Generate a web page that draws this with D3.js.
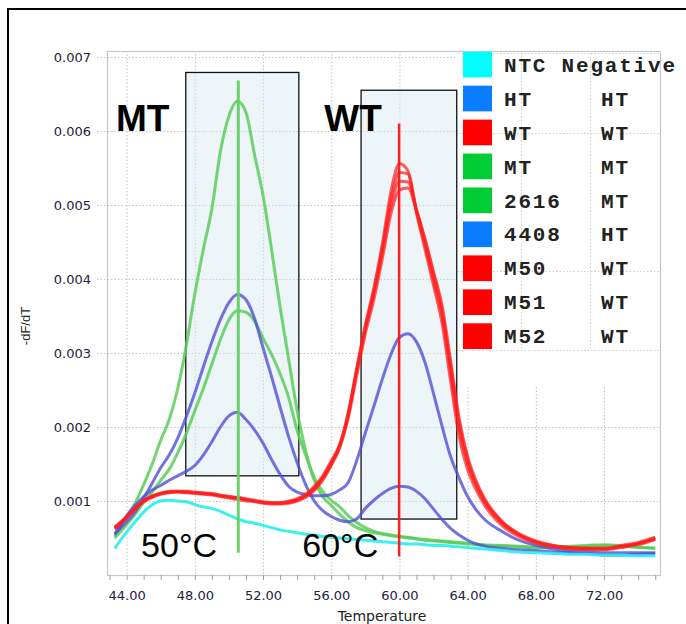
<!DOCTYPE html>
<html><head><meta charset="utf-8">
<script src="https://cdn.jsdelivr.net/npm/d3@7"></script>
<style>body{margin:0;background:#fff}svg{display:block}</style>
</head><body><svg id="c" width="686" height="624"></svg>
<script>
// ---------- data ----------
const temps = [43.3,44,44.5,45,45.5,46,46.5,47,47.5,48,48.5,49,49.5,50,50.5,51,51.5,52,52.5,53,53.5,54,54.5,55,55.5,56,56.5,57,57.5,58,58.5,59,59.5,60,60.5,61,61.5,62,62.5,63,63.5,64,64.5,65,66,67,68,69,70,71,72,73,74,75];

const ntc   = [.00036,.00058,.00072,.00085,.00095,.00100,.00101,.00100,.00099,.00095,.00092,.00090,.00086,.00081,.00076,.00072,.00070,.00067,.00064,.00061,.00059,.00057,.00055,.00054,.00052,.00051,.00050,.00049,.00048,.00047,.00046,.00045,.00044,.00043,.00042,.00042,.00041,.00040,.00040,.00039,.00038,.00037,.00036,.00035,.00033,.00031,.00030,.00029,.00028,.00028,.00027,.00027,.00026,.00026];
const ht    = [.00055,.00072,.00085,.00104,.00124,.00145,.00162,.00185,.00214,.00246,.00281,.00315,.00345,.00368,.00379,.00372,.00347,.00307,.00268,.00227,.00187,.00152,.00122,.00100,.00087,.00079,.00074,.00072,.00076,.00090,.00101,.00110,.00117,.00120,.00119,.00113,.00103,.00089,.00075,.00063,.00054,.00047,.00042,.00039,.00036,.00034,.00033,.00031,.00030,.00029,.00027,.00027,.00028,.00029];
const wt    = [.00064,.00078,.00090,.00100,.00106,.00110,.00112,.00112,.00112,.00111,.00110,.00109,.00107,.00105,.00104,.00102,.00100,.00098,.00097,.00097,.00099,.00102,.00108,.00118,.00132,.00152,.00175,.00220,.00280,.00338,.00388,.00448,.00518,.00556,.00546,.00489,.00440,.00391,.00340,.00262,.00187,.00142,.00115,.00094,.00067,.00052,.00043,.00038,.00035,.00034,.00034,.00037,.00041,.00048];
const mt    = [.00052,.00078,.00097,.00122,.00150,.00182,.00210,.00252,.00310,.00380,.00440,.00495,.00572,.00620,.00640,.00625,.00568,.00513,.00440,.00362,.00292,.00222,.00168,.00128,.00106,.00094,.00082,.00072,.00064,.00060,.00057,.00055,.00053,.00052,.00050,.00049,.00047,.00046,.00045,.00044,.00043,.00042,.00041,.00040,.00039,.00038,.00037,.00037,.00038,.00039,.00040,.00039,.00037,.00036];
const s2616 = [.00050,.00068,.00082,.00098,.00112,.00128,.00143,.00165,.00191,.00222,.00252,.00285,.00318,.00345,.00357,.00355,.00343,.00320,.00298,.00272,.00240,.00195,.00162,.00132,.00113,.00101,.00092,.00080,.00071,.00064,.00059,.00056,.00054,.00052,.00051,.00049,.00048,.00047,.00046,.00045,.00044,.00043,.00042,.00041,.00040,.00039,.00038,.00038,.00039,.00040,.00041,.00040,.00038,.00036];
const s4408 = [.00055,.00080,.00094,.00106,.00115,.00121,.00128,.00134,.00140,.00148,.00162,.00180,.00200,.00215,.00220,.00210,.00196,.00178,.00156,.00136,.00120,.00112,.00109,.00107,.00107,.00109,.00115,.00125,.00155,.00192,.00228,.00265,.00298,.00321,.00326,.00315,.00287,.00245,.00201,.00160,.00131,.00106,.00088,.00075,.00059,.00047,.00040,.00035,.00032,.00031,.00030,.00030,.00030,.00030];
const m50   = [.00062,.00077,.00089,.00099,.00105,.00109,.00111,.00112,.00111,.00110,.00109,.00108,.00106,.00104,.00102,.00100,.00099,.00097,.00096,.00096,.00097,.00100,.00105,.00114,.00128,.00148,.00172,.00216,.00276,.00334,.00384,.00442,.00508,.00544,.00542,.00492,.00446,.00398,.00350,.00274,.00198,.00150,.00120,.00098,.00070,.00054,.00044,.00039,.00036,.00035,.00035,.00038,.00042,.00049];
const m51   = [.00065,.00079,.00091,.00101,.00107,.00111,.00113,.00113,.00113,.00112,.00111,.00110,.00108,.00106,.00105,.00103,.00101,.00099,.00098,.00098,.00100,.00103,.00109,.00120,.00134,.00154,.00177,.00218,.00278,.00333,.00380,.00436,.00498,.00532,.00531,.00494,.00452,.00406,.00358,.00283,.00206,.00156,.00124,.00101,.00072,.00055,.00045,.00040,.00037,.00036,.00036,.00039,.00043,.00050];
const m52   = [.00063,.00078,.00090,.00100,.00106,.00110,.00112,.00113,.00112,.00111,.00110,.00109,.00107,.00106,.00104,.00102,.00100,.00098,.00097,.00097,.00098,.00101,.00106,.00116,.00130,.00150,.00174,.00212,.00270,.00326,.00372,.00428,.00488,.00520,.00523,.00492,.00454,.00410,.00364,.00290,.00212,.00160,.00127,.00103,.00073,.00056,.00046,.00040,.00037,.00036,.00036,.00040,.00044,.00051];

const legendNames = ["NTC Negative","HT","WT","MT","2616","4408","M50","M51","M52"];
const legendCalls = ["","HT","WT","MT","MT","HT","WT","WT","WT"];
const legendGroups = ["ntc","ht","wt","mt","mt","ht","wt","wt","wt"];

const xTickLabels = [44,48,52,56,60,64,68,72];
const xMinorTicks = [43,44,45,46,47,48,49,50,51,52,53,54,55,56,57,58,59,60,61,62,63,64,65,66,67,68,69,70,71,72,73,74,75];
const yTickLabels = [0.001,0.002,0.003,0.004,0.005,0.006,0.007];

// annotation boxes / markers in data units
const boxes = [{t0:47.47,t1:54.1,v0:0.00134,v1:0.00679},{t0:57.75,t1:63.36,v0:0.000756,v1:0.00655}];
const markers = [{t:50.55,v0:0.0003,v1:0.00668,group:"mtLine"},{t:59.98,v0:0.00025,v1:0.0061,group:"wtLine"}];

// ---------- styles ----------
const lineColor = {ntc:"rgba(40,238,238,0.9)",ht:"rgba(80,80,215,0.8)",wt:"rgba(255,30,30,0.7)",mt:"rgba(90,205,90,0.85)"};
const swatchColor = {ntc:"#00ffff",ht:"#0a7cff",wt:"#ff0000",mt:"#00cc33"};

const series = [
  {vals:mt,g:"mt"},{vals:s2616,g:"mt"},
  {vals:ht,g:"ht"},{vals:s4408,g:"ht"},
  {vals:wt,g:"wt"},{vals:m50,g:"wt"},{vals:m51,g:"wt"},{vals:m52,g:"wt"},
  {vals:ntc,g:"ntc"}
];

const svg = d3.select("#c");
const P = {l:107,r:660,t:51,b:575};
const x = d3.scaleLinear().domain([42.85,75.28]).range([P.l,P.r]);
const y = d3.scaleLinear().domain([0,0.00708]).range([P.b,P.t]);

svg.append("rect").attr("width",686).attr("height",624).attr("fill","#fff");
// outer frame
svg.append("rect").attr("x",8).attr("y",9).attr("width",700).attr("height",640)
  .attr("fill","none").attr("stroke","#000").attr("stroke-width",2);

// grid
const grid = svg.append("g").attr("stroke","#c4c4c4").attr("stroke-width",1).attr("stroke-dasharray","1.5,2");
grid.selectAll(".gx").data(xTickLabels).join("line")
  .attr("x1",d=>x(d)+0.5).attr("x2",d=>x(d)+0.5).attr("y1",P.t).attr("y2",P.b);
grid.selectAll(".gy").data(yTickLabels).join("line")
  .attr("x1",97).attr("x2",P.r).attr("y1",d=>Math.round(y(d))+0.5).attr("y2",d=>Math.round(y(d))+0.5);

// plot frame
svg.append("rect").attr("x",P.l+0.5).attr("y",P.t+0.5).attr("width",P.r-P.l).attr("height",P.b-P.t)
  .attr("fill","none").attr("stroke","#c3c8d0").attr("stroke-width",1.2);

// axes
const xa = svg.append("g").attr("transform",`translate(0,${P.b})`)
  .call(d3.axisBottom(x).tickValues(xMinorTicks).tickSize(5).tickPadding(11)
    .tickFormat(d=>xTickLabels.includes(d)?d.toFixed(2):""));
xa.select(".domain").remove();
xa.selectAll("line").attr("stroke","#9aa0aa");
xa.selectAll("text").attr("font-family","DejaVu Sans").attr("font-size",13).attr("fill","#1e2040");

const ya = svg.append("g").attr("transform",`translate(97,0)`)
  .call(d3.axisLeft(y).tickValues(yTickLabels).tickSize(0).tickPadding(6).tickFormat(d3.format(".3f")));
ya.select(".domain").remove();
ya.selectAll("text").attr("font-family","DejaVu Sans").attr("font-size",13).attr("fill","#1e2040");

svg.append("text").attr("x",382).attr("y",621).attr("text-anchor","middle")
  .attr("font-family","DejaVu Sans").attr("font-size",14).attr("fill","#222").text("Temperature");
svg.append("text").attr("transform","translate(30,326) rotate(-90)").attr("text-anchor","middle")
  .attr("font-family","Liberation Sans").attr("font-size",13).attr("fill","#222").text("-dF/dT");

// boxes
svg.append("g").selectAll("rect").data(boxes).join("rect")
  .attr("x",d=>x(d.t0)).attr("y",d=>y(d.v1))
  .attr("width",d=>x(d.t1)-x(d.t0)).attr("height",d=>y(d.v0)-y(d.v1))
  .attr("fill","rgba(215,232,242,0.45)").attr("stroke","#111").attr("stroke-width",1.3);

// curves
const line = d3.line().x((d,i)=>x(temps[i])).y(d=>y(d)).defined(d=>d!=null).curve(d3.curveMonotoneX);
svg.append("g").selectAll("path").data(series).join("path")
  .attr("d",d=>line(d.vals)).attr("fill","none")
  .attr("stroke",d=>lineColor[d.g]).attr("stroke-width",3).attr("stroke-linejoin","round");

// markers
svg.append("g").selectAll("line").data(markers).join("line")
  .attr("x1",d=>x(d.t)).attr("x2",d=>x(d.t)).attr("y1",d=>y(d.v0)).attr("y2",d=>y(d.v1))
  .attr("stroke",d=>d.group==="mtLine"?"rgba(100,205,100,0.95)":"rgba(255,20,20,0.95)")
  .attr("stroke-width",d=>d.group==="mtLine"?3:2.5);

// labels
const big = [{t:"MT",tx:43.38,v:0.005996,w:"bold",s:37},{t:"WT",tx:55.59,v:0.005996,w:"bold",s:37},
             {t:"50°C",tx:44.85,v:0.000245,w:"normal",s:34},{t:"60°C",tx:54.3,v:0.000245,w:"normal",s:34}];
svg.append("g").selectAll("text").data(big).join("text")
  .attr("x",d=>x(d.tx)).attr("y",d=>y(d.v)).attr("font-family","Liberation Sans")
  .attr("font-weight",d=>d.w).attr("font-size",d=>d.s).attr("fill","#000").text(d=>d.t);

// legend
const lg = svg.append("g");
lg.append("rect").attr("x",458).attr("y",52).attr("width",201).attr("height",334).attr("fill","#fff");
const lgrid = lg.append("g").attr("stroke","#cfcfcf").attr("stroke-width",1).attr("stroke-dasharray","1.5,2");
[53.5,133.5,271.5,350.5].forEach(yy=>lgrid.append("line").attr("x1",458).attr("x2",659).attr("y1",yy).attr("y2",yy));
[521.5,590.5].forEach(xx=>lgrid.append("line").attr("x1",xx).attr("x2",xx).attr("y1",53).attr("y2",350));
const rowH = 33.95;
const rows = lg.selectAll(".row").data(legendNames).join("g").attr("transform",(d,i)=>`translate(0,${51.7+i*rowH})`);
rows.append("rect").attr("x",463).attr("y",0).attr("width",29).attr("height",25.7)
  .attr("fill",(d,i)=>swatchColor[legendGroups[i]]);
rows.append("text").attr("x",504).attr("y",20).attr("font-family","Liberation Mono").attr("font-weight","bold")
  .attr("font-size",21).attr("letter-spacing",1.8).attr("fill","#222").text(d=>d);
rows.append("text").attr("x",601).attr("y",20).attr("font-family","Liberation Mono").attr("font-weight","bold")
  .attr("font-size",21).attr("letter-spacing",1.8).attr("fill","#222").text((d,i)=>legendCalls[i]);
</script></body></html>
